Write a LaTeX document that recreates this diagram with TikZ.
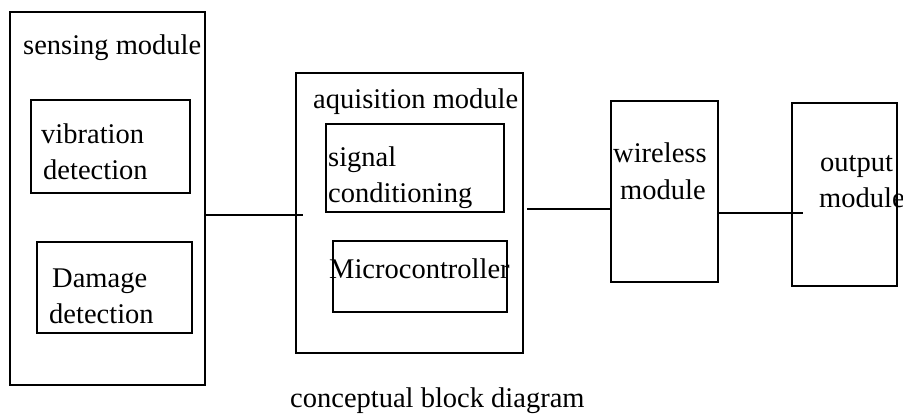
\documentclass[tikz,border=0pt]{standalone}
\usepackage{fontspec}
\setmainfont{Liberation Serif}
\begin{document}
\begin{tikzpicture}[x=1pt,y=-1pt,
  box/.style={draw,line width=1.4pt,inner sep=0pt,outer sep=0pt,anchor=north west},
  lbl/.style={inner sep=0pt,anchor=base west,font=\fontsize{28.5}{36}\selectfont},
  wire/.style={line width=1.4pt}]
\useasboundingbox (0,0) rectangle (903,420);
% boxes
\node[box,minimum width=195pt,minimum height=373pt] (sens) at (10,12) {};
\node[box,minimum width=159pt,minimum height=93pt] (vib) at (31,100) {};
\node[box,minimum width=155pt,minimum height=91pt] (dam) at (37,242) {};
\node[box,minimum width=227pt,minimum height=280pt] (acq) at (296,73) {};
\node[box,minimum width=178pt,minimum height=88pt] (sig) at (326,124) {};
\node[box,minimum width=174pt,minimum height=71pt] (mcu) at (333,241) {};
\node[box,minimum width=107pt,minimum height=181pt] (wir) at (611,101) {};
\node[box,minimum width=105pt,minimum height=183pt] (out) at (792,103) {};
% labels
\node[lbl] (tsens) at (23,55) {sensing module};
\node[lbl] (tvib1) at (41,143) {vibration};
\node[lbl] (tvib2) at (43,179) {detection};
\node[lbl] (tdam1) at (52,287) {Damage};
\node[lbl] (tdam2) at (49,323) {detection};
\node[lbl] (tacq) at (313,108) {aquisition module};
\node[lbl] (tsig1) at (328,166) {signal};
\node[lbl] (tsig2) at (328,202) {conditioning};
\node[lbl] (tmcu) at (329,278) {Microcontroller};
\node[lbl] (twir1) at (613,162) {wireless};
\node[lbl] (twir2) at (620,199) {module};
\node[lbl] (tout1) at (820,171) {output};
\node[lbl] (tout2) at (819,207) {module};
\node[lbl] (tcap) at (290,407) {conceptual block diagram};
% connectors
\coordinate (c1) at (303,215);
\coordinate (c2a) at (527,209);
\coordinate (c3) at (803,213);
\draw[wire] (sens.east |- c1) -- (c1);
\draw[wire] (c2a) -- (wir.west |- c2a);
\draw[wire] (wir.east |- c3) -- (c3);
\end{tikzpicture}
\end{document}
